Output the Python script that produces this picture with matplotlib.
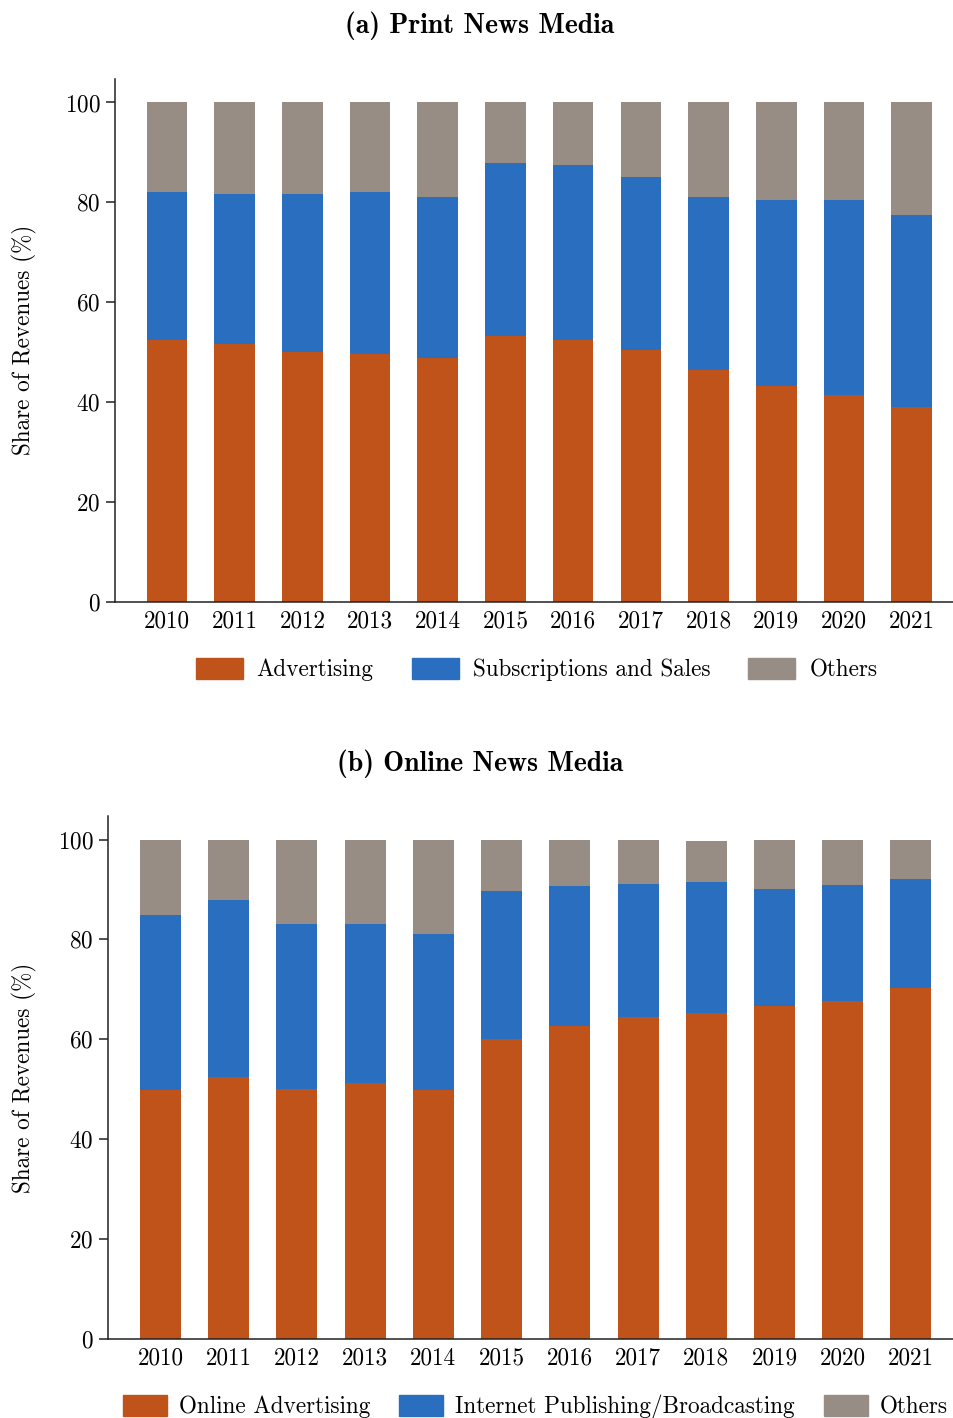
import numpy as np
import matplotlib
matplotlib.use("Agg")
import matplotlib.pyplot as plt
from matplotlib.patches import Patch

plt.rcParams['font.family'] = 'serif'
plt.rcParams['font.serif'] = ['cmr10', 'DejaVu Serif']
plt.rcParams['axes.formatter.use_mathtext'] = True
plt.rcParams['axes.unicode_minus'] = False

years = ['2010', '2011', '2012', '2013', '2014', '2015',
         '2016', '2017', '2018', '2019', '2020', '2021']

# (a) print news media, shares in %
print_adv = [52.5, 51.6, 50.0, 49.7, 48.9, 53.2, 52.4, 50.4, 46.4, 43.2, 41.3, 38.9]
print_subs = [29.5, 30.0, 31.6, 32.3, 32.1, 34.6, 35.0, 34.6, 34.6, 37.2, 39.1, 38.5]
print_oth = [18.0, 18.4, 18.4, 18.0, 19.0, 12.2, 12.6, 15.0, 19.0, 19.6, 19.6, 22.6]

# (b) online news media, shares in %
online_adv = [49.9, 52.4, 50.0, 51.2, 49.9, 60.0, 62.7, 64.4, 65.2, 66.7, 67.6, 70.3]
online_pub = [34.9, 35.4, 33.0, 31.8, 31.1, 29.6, 28.0, 26.6, 26.2, 23.4, 23.3, 21.7]
online_oth = [15.2, 12.2, 17.0, 17.0, 19.0, 10.4, 9.3, 9.0, 8.4, 9.9, 9.1, 8.0]

c_adv = '#BF531A'
c_mid = '#2A6EC0'
c_oth = '#988D84'
fs = 16.7

fig = plt.figure(figsize=(9.54, 14.18), dpi=100)
ax1 = fig.add_axes([0.1205, 0.5757, 0.879, 0.3686])
ax2 = fig.add_axes([0.1132, 0.0557, 0.886, 0.3688])

def draw(ax, a, b, c):
    x = np.arange(len(years))
    a = np.array(a); b = np.array(b); c = np.array(c)
    ax.bar(x, a, width=0.6, color=c_adv)
    ax.bar(x, b, width=0.6, bottom=a, color=c_mid)
    ax.bar(x, c, width=0.6, bottom=a + b, color=c_oth)
    ax.set_xticks(x)
    ax.set_xticklabels(years)
    ax.set_xlim(-0.77, 11.62)
    ax.set_ylim(0, 104.7)
    ax.set_yticks([0, 20, 40, 60, 80, 100])
    ax.spines['top'].set_visible(False)
    ax.spines['right'].set_visible(False)
    for s in ['left', 'bottom']:
        ax.spines[s].set_linewidth(1.1)
        ax.spines[s].set_color('#222222')
    ax.tick_params(axis='x', length=0, pad=6, labelsize=fs)
    ax.tick_params(axis='y', length=6.5, width=1.1, pad=4, labelsize=fs, color='#222222')
    ax.set_ylabel('Share of Revenues (%)', fontsize=fs)

draw(ax1, print_adv, print_subs, print_oth)
draw(ax2, online_adv, online_pub, online_oth)
ax1.yaxis.set_label_coords(-0.093, 0.5)
ax2.yaxis.set_label_coords(-0.084, 0.5)

fig.text(0.503, 0.9817, '(a) Print News Media', ha='center', va='center',
         fontsize=20, family='cmb10')
fig.text(0.503, 0.4612, '(b) Online News Media', ha='center', va='center',
         fontsize=20, family='cmb10')

h1 = [Patch(color=c_adv, label='Advertising'),
      Patch(color=c_mid, label='Subscriptions and Sales'),
      Patch(color=c_oth, label='Others')]
fig.legend(handles=h1, bbox_to_anchor=(536.5 / 954, 1 - 669.5 / 1418), loc='center',
           ncol=3, frameon=False, fontsize=fs, handlelength=2.03, handleheight=1.03,
           handletextpad=0.6, columnspacing=1.64)
h2 = [Patch(color=c_adv, label='Online Advertising'),
      Patch(color=c_mid, label='Internet Publishing/Broadcasting'),
      Patch(color=c_oth, label='Others')]
fig.legend(handles=h2, bbox_to_anchor=(535.5 / 954, 1 - 1407 / 1418), loc='center',
           ncol=3, frameon=False, fontsize=fs, handlelength=1.9, handleheight=1.03,
           handletextpad=0.52, columnspacing=1.25)

fig.savefig('out.png', dpi=100)
